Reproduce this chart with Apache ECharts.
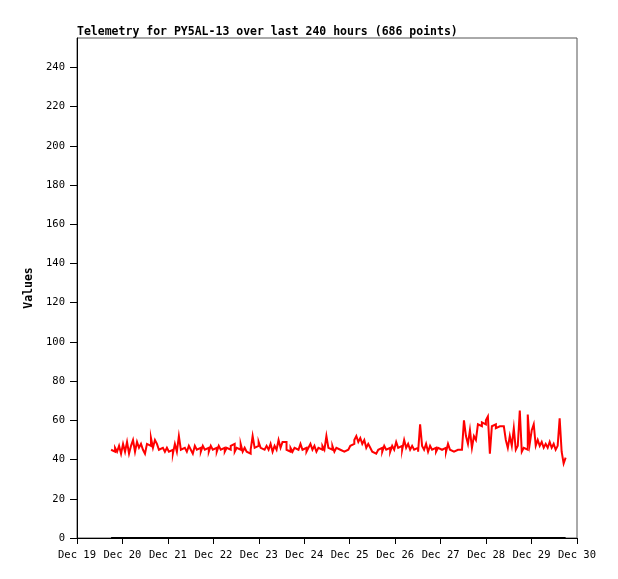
<!DOCTYPE html>
<html><head><meta charset="utf-8">
<script src="https://cdn.jsdelivr.net/npm/echarts@6/dist/echarts.min.js"></script>
<style>html,body{margin:0;padding:0;background:#fff}#c{width:618px;height:579px}</style>
</head><body><div id="c"></div>
<script>
const titleText = 'Telemetry for PY5AL-13 over last 240 hours (686 points)';
const yAxisName = 'Values';
const xTickLabels = ['Dec 19','Dec 20','Dec 21','Dec 22','Dec 23','Dec 24','Dec 25','Dec 26','Dec 27','Dec 28','Dec 29','Dec 30'];
const yTicks = [0,20,40,60,80,100,120,140,160,180,200,220,240];
const xStart = '2023-12-19T00:00:00';
const xEnd = '2023-12-30T00:00:00';
const seriesStart = '2023-12-19T18:00:00';
const seriesEnd = '2023-12-29T18:00:00';
const telemetryValues = [
45,44,46,44,47,43,48,44,49,43,47,50,44,49,46,48,45,43,48,47,51,46,50,48,45,46,45,44,46,44,45,43,48,44,52,45,46,45,
44,47,45,43,47,45,46,44,47,45,46,44,47,45,46,44,47,45,46,44,46,45,47,48,44,46,45,48,44,46,44,43,45,52,46,47,49,46,45,
44,47,45,48,44,47,45,50,46,49,49,45,44,46,44,46,45,44,48,45,46,44,46,48,45,47,44,46,45,47,45,52,46,45,47,44,46,45,44,
44,43,45,44,47,48,50,52,49,51,48,50,46,48,46,44,43,42,45,46,44,47,45,46,44,47,45,49,46,47,45,50,46,48,45,47,45,46,44,
58,47,45,48,44,47,45,46,44,46,45,44,46,44,48,45,44,43,45,44,45,46,60,52,48,55,46,52,50,58,57,59,58,60,62,43,57,58,56,
57,58,57,57,50,46,52,47,56,45,47,65,44,46,45,63,48,55,58,47,50,47,49,46,48,46,49,46,48,45,47,61,44,38,41
];
const baseValues = [0, 0];

const t0 = new Date(seriesStart).getTime();
const t1 = new Date(seriesEnd).getTime();
const n = telemetryValues.length;
const redData = telemetryValues.map((v, i) => [t0 + (t1 - t0) * i / (n - 1), v]);
const blackData = [[t0, baseValues[0]], [t1, baseValues[1]]];
const monthNames = ['Jan','Feb','Mar','Apr','May','Jun','Jul','Aug','Sep','Oct','Nov','Dec'];
const FONT = '"DejaVu Sans Mono", monospace';

const chart = echarts.init(document.getElementById('c'), null, {renderer: 'canvas'});
chart.setOption({
  animation: false,
  backgroundColor: '#fff',
  title: {
    text: titleText, left: 72, top: 21,
    textStyle: {fontFamily: FONT, fontSize: 11.5, fontWeight: 'bold', color: '#000'}
  },
  grid: {left: 77, right: 41, top: 38, bottom: 41, show: true, borderColor: '#555', borderWidth: 1, backgroundColor: 'transparent'},
  xAxis: {
    type: 'time', min: new Date(xStart).getTime(), max: new Date(xEnd).getTime(),
    interval: 24 * 3600 * 1000, minInterval: 24 * 3600 * 1000, maxInterval: 24 * 3600 * 1000,
    axisLine: {show: true, onZero: false, lineStyle: {color: '#000', width: 1}},
    axisTick: {show: true, length: 6, lineStyle: {color: '#000'}},
    splitLine: {show: false},
    axisLabel: {
      fontFamily: FONT, fontSize: 10.5, color: '#000', margin: 12, hideOverlap: false, showMinLabel: true, showMaxLabel: true,
      formatter: function (val) { const d = new Date(val); return monthNames[d.getMonth()] + ' ' + d.getDate(); }
    }
  },
  yAxis: {
    type: 'value', min: 0, max: 255, interval: 20,
    name: yAxisName, nameLocation: 'middle', nameGap: 37,
    nameTextStyle: {fontFamily: FONT, fontSize: 11.5, fontWeight: 'bold', color: '#000'},
    axisLine: {show: true, lineStyle: {color: '#000', width: 1}},
    axisTick: {show: true, length: 7, lineStyle: {color: '#000'}},
    splitLine: {show: false},
    axisLabel: {fontFamily: FONT, fontSize: 10.5, color: '#000', margin: 12, showMaxLabel: false,
      formatter: function (v) { return yTicks.indexOf(v) >= 0 ? String(v) : ''; }}
  },
  series: [
    {type: 'line', data: blackData, showSymbol: false, lineStyle: {color: '#000', width: 2}, z: 2},
    {type: 'line', data: redData, showSymbol: false, step: 'end', lineStyle: {color: '#ff0000', width: 2, cap: 'butt', join: 'miter'}, z: 3}
  ]
});
</script></body></html>
